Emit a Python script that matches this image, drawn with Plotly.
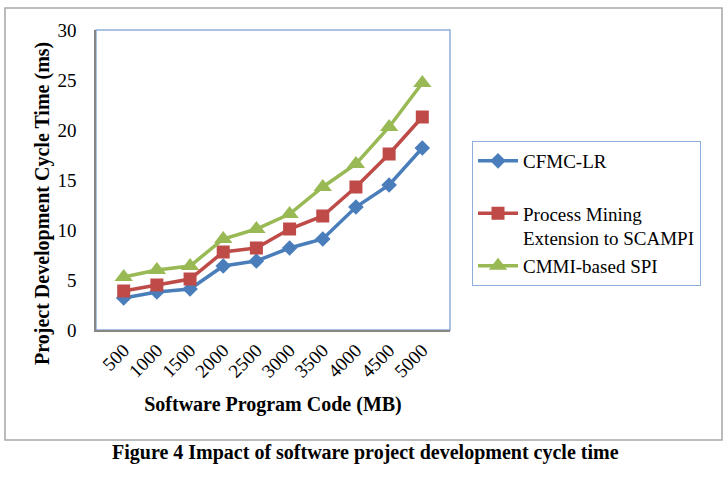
import plotly.graph_objects as go

categories = ["500", "1000", "1500", "2000", "2500", "3000", "3500", "4000", "4500", "5000"]
cfmc_lr = [3.2, 3.8, 4.1, 6.4, 6.9, 8.2, 9.1, 12.3, 14.5, 18.2]
process_mining = [3.9, 4.5, 5.1, 7.8, 8.2, 10.1, 11.4, 14.3, 17.6, 21.3]
cmmi_spi = [5.3, 6.0, 6.4, 9.1, 10.1, 11.6, 14.3, 16.6, 20.3, 24.7]

series = [
    ("CFMC-LR<br>\u00a0", cfmc_lr, "#4a7ebb", "diamond", 12),
    ("Process Mining<br>Extension to SCAMPI", process_mining, "#be4b48", "square", 13),
    ("CMMI-based SPI", cmmi_spi, "#98b954", "triangle-up", 16),
]

W, H = 727, 482
L, R, T, B = 96, 450, 30, 330
pw, ph = R - L, B - T

def px(x):
    return (x - L) / pw

def py(y):
    return (B - y) / ph

fig = go.Figure()
for i, (name, vals, color, sym, sz) in enumerate(series):
    fig.add_trace(go.Scatter(
        x=categories, y=vals, name=name, mode="lines+markers",
        line=dict(color=color, width=3.5),
        marker=dict(symbol=sym, size=sz, color=color),
        legendgroup=f"g{i}",
    ))

serif = "Liberation Serif, Times New Roman, serif"

fig.update_layout(
    width=W, height=H,
    margin=dict(l=L, r=W - R, t=T, b=H - B, autoexpand=False),
    paper_bgcolor="white", plot_bgcolor="white",
    font=dict(family=serif, color="black"),
    showlegend=True,
    legend=dict(
        x=px(472), y=py(141), xanchor="left", yanchor="top",
        bordercolor="#8eaedb", borderwidth=1,
        font=dict(family=serif, size=19, color="black"),
        traceorder="grouped", tracegroupgap=0, valign="top",
        itemwidth=40,
    ),
    xaxis=dict(
        type="category", tickangle=-45,
        tickfont=dict(family=serif, size=19),
        showline=True, linecolor="#868686", linewidth=1.5,
        showgrid=False, ticks="", mirror=False,
        title=dict(text="<b>Software Program Code (MB)</b>",
                   font=dict(family=serif, size=20), standoff=17),
    ),
    yaxis=dict(
        range=[0, 30], dtick=5, tickfont=dict(family=serif, size=19),
        showline=True, linecolor="#868686", linewidth=1.5,
        showgrid=False, ticks="", ticklabelstandoff=14, zeroline=False,
    ),
    shapes=[
        dict(type="rect", xref="paper", yref="paper", x0=px(5), x1=px(722),
             y0=py(440), y1=py(8), line=dict(color="#a6a6a6", width=1.5), layer="below"),
        dict(type="rect", xref="paper", yref="paper", x0=0, x1=1, y0=0, y1=1,
             line=dict(color="#8eaedb", width=1.5), layer="below"),
    ],
    annotations=[
        dict(text="<b>Project Development Cycle Time (ms)</b>",
             xref="paper", yref="paper", x=px(42), y=py(204),
             xanchor="center", yanchor="middle", showarrow=False, textangle=-90,
             font=dict(family=serif, size=20, color="black")),
        dict(text="<b>Figure 4 Impact of software project development cycle time</b>",
             xref="paper", yref="paper", x=px(365), y=py(452),
             xanchor="center", yanchor="middle", showarrow=False,
             font=dict(family=serif, size=20, color="black")),
    ],
)

fig.write_html("out.html")
